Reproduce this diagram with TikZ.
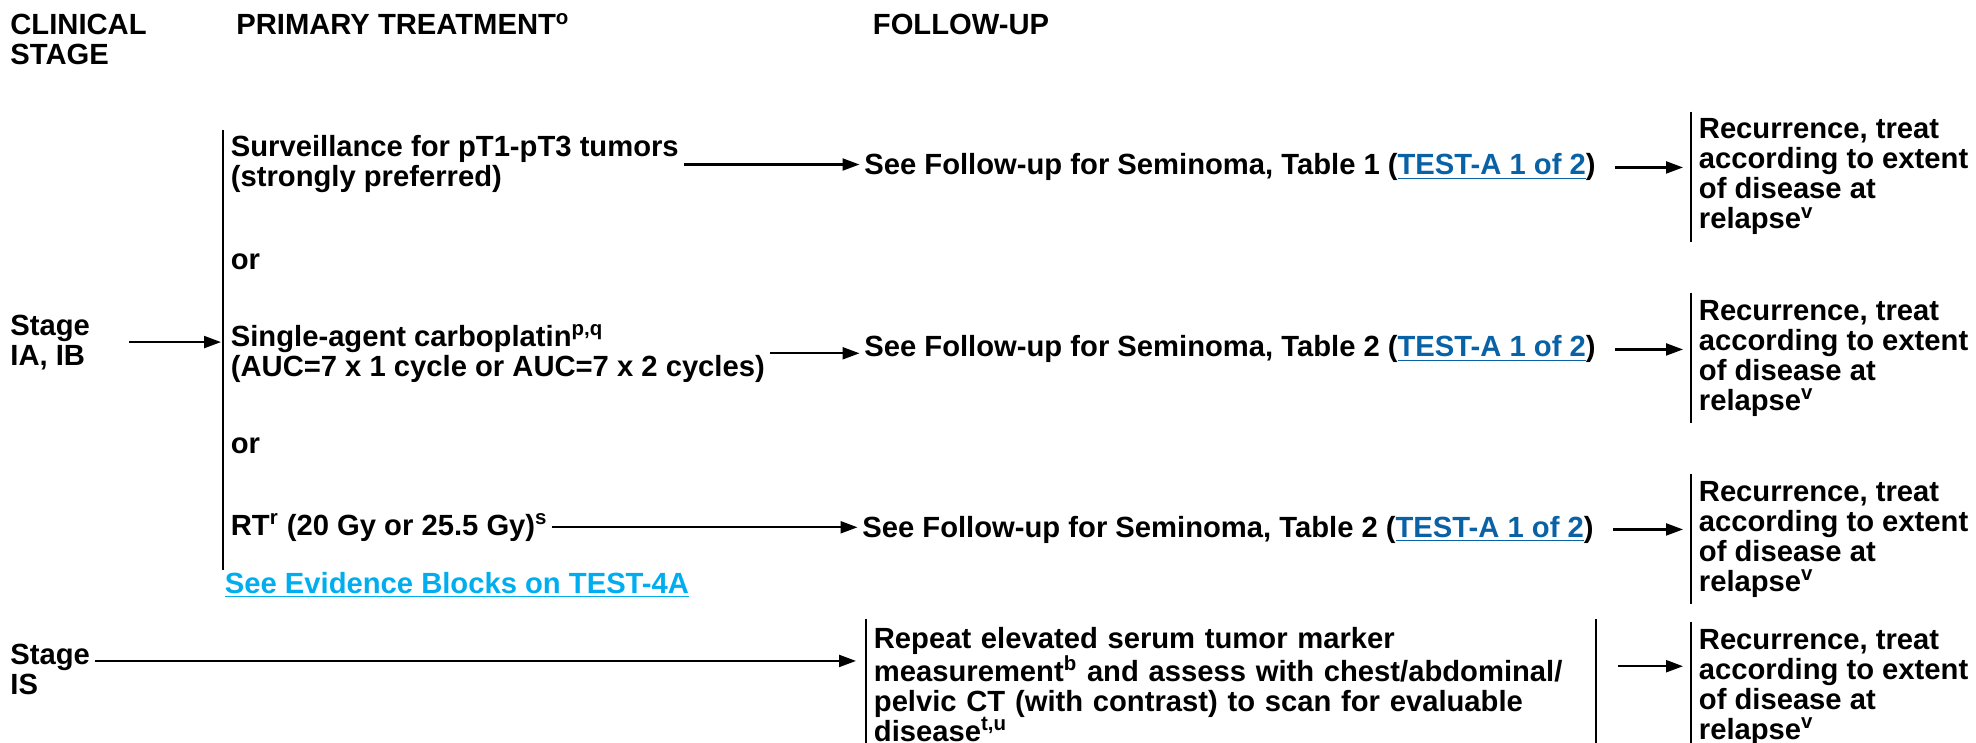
\documentclass[tikz,border=0pt]{standalone}
\usepackage{fontspec}
\setmainfont{Liberation Sans}
\usetikzlibrary{arrows.meta}
\definecolor{linkblue}{HTML}{0A62A6}
\definecolor{linkcyan}{HTML}{00AEEF}
\newcommand{\lnk}[1]{\textcolor{linkblue}{\underline{#1}}}
\begin{document}
\begin{tikzpicture}[x=0.5pt,y=-0.5pt,
  every node/.style={font=\fontsize{14.6}{15}\selectfont\bfseries, align=left, inner ysep=0pt, inner xsep=2.25pt},
  lbl/.style={anchor=base west},
  barbox/.style={anchor=base west, inner xsep=3.75pt, inner ysep=3.5pt},
  arr/.style={-{Triangle[length=8.5pt,width=6pt]}, line width=1.1pt},
  rule/.style={line width=0.9pt}]
\useasboundingbox (0,0) rectangle (1976,743);
% headers (anchors at the baseline of the last line)
\node[lbl] (cs) at (5.5,65) {CLINICAL\\STAGE};
\node[lbl] (pt) at (231.5,35) {PRIMARY TREATMENT\textsuperscript{o}};
\node[lbl] (fu) at (868,35) {FOLLOW-UP};
% stages
\node[lbl] (sa) at (5.5,365) {Stage\\IA, IB};
\node[lbl] (sis) at (5.5,694) {Stage\\IS};
% primary treatment
\coordinate (pbt) at (223,130);
\coordinate (pbb) at (223,570);
\draw[rule] (pbt) -- (pbb);
\node[lbl] (surv) at (226,187) {Surveillance for pT1-pT3 tumors\\(strongly preferred)};
\node[lbl] (or1) at (226,270) {or};
\node[lbl] (carbo) at (226,376) {Single-agent carboplatin\textsuperscript{p,q}\\(AUC=7 x 1 cycle or AUC=7 x 2 cycles)};
\node[lbl] (or2) at (226,453) {or};
\node[lbl] (rt) at (226,535) {RT\textsuperscript{r} (20 Gy or 25.5 Gy)\textsuperscript{s}};
\node[lbl] (ev) at (220,593) {\textcolor{linkcyan}{\underline{See Evidence Blocks on TEST-4A}}};
% follow-up
\node[lbl] (f1) at (859.5,175) {See Follow-up for Seminoma, Table 1 (\lnk{TEST-A 1 of 2})};
\node[lbl] (f2) at (859.5,357) {See Follow-up for Seminoma, Table 2 (\lnk{TEST-A 1 of 2})};
\node[lbl] (f3) at (857.5,537) {See Follow-up for Seminoma, Table 2 (\lnk{TEST-A 1 of 2})};
\node[barbox, text width=357pt] (rep) at (866,648) {Repeat elevated serum tumor marker\\measurement\textsuperscript{b} and assess with chest/abdominal/\\pelvic CT (with contrast) to scan for evaluable\\disease\textsuperscript{t,u}};
% recurrence
\node[barbox] (r1) at (1691,229) {Recurrence, treat\\according to extent\\of disease at\\relapse\textsuperscript{v}};
\node[barbox] (r2) at (1691,410) {Recurrence, treat\\according to extent\\of disease at\\relapse\textsuperscript{v}};
\node[barbox] (r3) at (1691,591) {Recurrence, treat\\according to extent\\of disease at\\relapse\textsuperscript{v}};
\node[barbox] (r4) at (1691,739) {Recurrence, treat\\according to extent\\of disease at\\relapse\textsuperscript{v}};
\foreach \n in {r1,r2,r3,r4,rep} \draw[rule] (\n.north west) -- (\n.south west);
\draw[rule] (rep.north east) -- (rep.south east);
% connectors
\draw[arr, shorten <=17pt, shorten >=1pt] (sa.east) -- (sa.east -| pbt);
\draw[arr] (surv.east) -- (surv.east -| f1.west);
\draw[arr] (carbo.east) -- (carbo.east -| f2.west);
\draw[arr] (rt.east) -- (rt.east -| f3.west);
\draw[arr, shorten <=7.5pt, shorten >=4pt] (f1.east) -- (f1.east -| r1.west);
\draw[arr, shorten <=7.5pt, shorten >=4pt] (f2.east) -- (f2.east -| r2.west);
\draw[arr, shorten <=7.5pt, shorten >=4pt] (f3.east) -- (f3.east -| r3.west);
\draw[arr, shorten >=5pt] ([yshift=4pt]sis.east) -- ([yshift=4pt]sis.east -| rep.west);
\draw[arr, shorten <=11pt, shorten >=4pt] ([yshift=9pt]rep.east) -- ([yshift=9pt]rep.east -| r4.west);
\end{tikzpicture}
\end{document}
